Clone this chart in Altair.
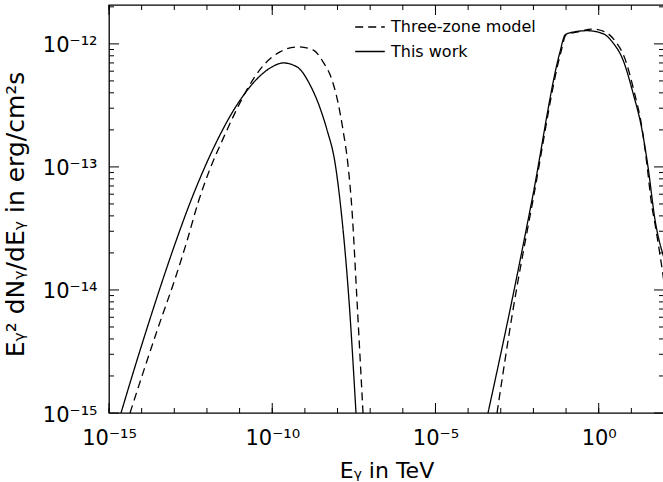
import altair as alt
import pandas as pd
import numpy as np

# ---- curve values (E in TeV, E^2 dN/dE in erg/cm^2 s) ----
work_low_E = [2.33e-15, 5.83e-15, 1.57e-14, 4.20e-14, 1.13e-13, 3.03e-13, 8.13e-13, 2.18e-12,
              5.86e-12, 1.57e-11, 4.22e-11, 9.84e-11, 2.14e-10, 5.74e-10, 1.44e-9, 2.90e-9,
              4.76e-9, 8.38e-9, 1.28e-8, 2.24e-8, 3.68e-8]
work_low_F = [1.0e-15, 2.24e-15, 5.19e-15, 1.16e-14, 2.50e-14, 5.10e-14, 9.63e-14, 1.69e-13,
              2.75e-13, 4.07e-13, 5.49e-13, 6.50e-13, 7.00e-13, 6.50e-13, 4.64e-13, 3.02e-13,
              2.00e-13, 1.08e-13, 4.47e-14, 8.29e-15, 1.0e-15]
work_high_E = [4.06e-4, 1.92e-3, 9.06e-3, 6.53e-2, 9.29e-2, 0.132, 0.439, 1.36, 2.74, 5.55,
               11.2, 21.2, 32.4, 53.1, 100.0]
work_high_F = [1.0e-15, 6.88e-15, 5.39e-14, 8.61e-13, 1.18e-12, 1.23e-12, 1.28e-12, 1.21e-12,
               1.02e-12, 7.41e-13, 4.00e-13, 2.00e-13, 1.0e-13, 3.71e-14, 1.82e-14]

three_low_E = [4.40e-15, 1.18e-14, 3.40e-14, 9.79e-14, 2.45e-13, 5.32e-13, 1.24e-12, 3.10e-12,
               7.24e-12, 1.60e-11, 5.21e-11, 1.73e-10, 6.15e-10, 1.77e-9, 3.59e-9, 6.78e-9,
               1.04e-8, 1.47e-8, 2.09e-8, 2.77e-8, 3.94e-8, 6.03e-8]
three_low_F = [1.0e-15, 2.24e-15, 5.19e-15, 1.16e-14, 2.50e-14, 5.10e-14, 9.63e-14, 1.69e-13,
               2.75e-13, 4.15e-13, 6.62e-13, 8.61e-13, 9.45e-13, 8.93e-13, 7.15e-13, 5.09e-13,
               3.31e-13, 2.00e-13, 1.04e-13, 4.47e-14, 8.29e-15, 1.0e-15]
three_high_E = [7.67e-4, 2.37e-3, 9.73e-3, 7.00e-2, 9.95e-2, 0.232, 0.624, 1.56, 3.16, 6.39,
                12.0, 21.2, 30.1, 40.0, 56.9, 75.4, 100.0]
three_high_F = [1.0e-15, 6.88e-15, 5.39e-14, 8.61e-13, 1.18e-12, 1.25e-12, 1.32e-12, 1.25e-12,
                1.06e-12, 7.55e-13, 4.15e-13, 2.07e-13, 1.04e-13, 5.39e-14, 3.08e-14, 1.93e-14,
                1.16e-14]

series_names = ["Three-zone model", "This work"]

# ---- axis ticks and labels ----
x_domain = [1e-15, 1e2]
y_domain = [1e-15, 2.07e-12]
x_label_values = [1e-15, 1e-10, 1e-5, 1e0]
x_label_texts = ["10⁻¹⁵", "10⁻¹⁰", "10⁻⁵", "10⁰"]
y_label_values = [1e-15, 1e-14, 1e-13, 1e-12]
y_label_texts = ["10⁻¹⁵", "10⁻¹⁴", "10⁻¹³", "10⁻¹²"]
x_minor_ticks = [1e-15, 1e-14, 1e-13, 1e-12, 1e-11, 1e-10, 1e-9, 1e-8, 1e-7, 1e-6,
                 1e-5, 1e-4, 1e-3, 1e-2, 1e-1, 1e0, 1e1, 1e2]
x_major_ticks = [1e-15, 1e-10, 1e-5, 1e0]
y_major_ticks = [1e-15, 1e-14, 1e-13, 1e-12]
y_minor_ticks = [m * d for d in [1e-15, 1e-14, 1e-13] for m in range(2, 10)] + [2e-12]

FONT = "DejaVu Sans"
W, H = 555, 408


def label_expr(values, texts):
    parts = [f"round(log(datum.value)/LN10) == {int(round(np.log10(v)))} ? '{t}' : "
             for v, t in zip(values, texts)]
    return "".join(parts) + "''"


segments = [
    ("This work", "work_low", work_low_E, work_low_F),
    ("This work", "work_high", work_high_E, work_high_F),
    ("Three-zone model", "three_low", three_low_E, three_low_F),
    ("Three-zone model", "three_high", three_high_E, three_high_F),
]
rows = []
for name, seg, es, fs in segments:
    for i, (e, f) in enumerate(zip(es, fs)):
        rows.append({"series": name, "segment": seg, "order": i, "E": e, "F": f})
curves = pd.DataFrame(rows)

xscale = alt.Scale(type="log", domain=x_domain, nice=False)
yscale = alt.Scale(type="log", domain=y_domain, nice=False)

x_axis = alt.Axis(
    values=x_label_values, labelExpr=label_expr(x_label_values, x_label_texts),
    ticks=False, tickSize=0, domain=False, grid=False, labelFlush=False, labelOverlap=False,
    labelFontSize=21, labelPadding=31, labelBaseline="alphabetic",
    title="Eᵧ in TeV", titleFontSize=22, titleY=64, titleBaseline="alphabetic",
)
y_axis = alt.Axis(
    values=y_label_values, labelExpr=label_expr(y_label_values, y_label_texts),
    ticks=False, tickSize=0, domain=False, grid=False, labelFlush=False, labelOverlap=False,
    labelFontSize=21, labelPadding=12, labelBaseline="alphabetic", labelOffset=8,
    title="Eᵧ² dNᵧ/dEᵧ in erg/cm²s", titleFontSize=25, titleAngle=270,
    titleX=-86, titleY=209, titleAlign="center", titleBaseline="alphabetic",
)

X = alt.X("E:Q", scale=xscale, axis=x_axis)
Y = alt.Y("F:Q", scale=yscale, axis=y_axis)

lines = alt.Chart(curves).mark_line(color="black", strokeWidth=1.3, clip=True,
                                    interpolate="monotone").encode(
    x=X, y=Y,
    strokeDash=alt.StrokeDash(
        "series:N",
        scale=alt.Scale(domain=series_names, range=[[8, 5], [1, 0]]),
        legend=alt.Legend(
            title=None, orient="none", legendX=251, legendY=12,
            symbolType="M-1.6,0H1.6", symbolSize=342, symbolStrokeWidth=1.3,
            symbolStrokeColor="black", labelFontSize=16, labelFont=FONT,
            labelColor="black", labelOffset=11, rowPadding=6.5,
        ),
    ),
    detail="segment:N",
    order="order:Q",
)

xt_minor = pd.DataFrame({"E": x_minor_ticks})
xt_major = pd.DataFrame({"E": x_major_ticks})
yt_minor = pd.DataFrame({"F": y_minor_ticks})
yt_major = pd.DataFrame({"F": y_major_ticks})

tick_layers = []
for df, ln in [(xt_minor, 5), (xt_major, 10)]:
    tick_layers.append(alt.Chart(df).mark_rule(color="black", strokeWidth=1).encode(
        x=X, y=alt.value(H), y2=alt.value(H - ln)))
    tick_layers.append(alt.Chart(df).mark_rule(color="black", strokeWidth=1).encode(
        x=X, y=alt.value(0), y2=alt.value(ln)))
for df, ln in [(yt_minor, 5), (yt_major, 10)]:
    tick_layers.append(alt.Chart(df).mark_rule(color="black", strokeWidth=1).encode(
        y=Y, x=alt.value(0), x2=alt.value(ln)))
    tick_layers.append(alt.Chart(df).mark_rule(color="black", strokeWidth=1).encode(
        y=Y, x=alt.value(W), x2=alt.value(W - ln)))

chart = alt.layer(lines, *tick_layers).properties(
    width=W, height=H,
    autosize=alt.AutoSizeParams(type="none"),
    padding={"left": 109, "top": 5, "right": -1, "bottom": 69},
    background="white",
).configure_view(
    stroke="black", strokeWidth=1.3
).configure_axis(
    labelFont=FONT, titleFont=FONT, labelColor="black", titleColor="black",
    titleFontWeight="normal",
)

chart.save("out.html", embed_options={"renderer": "svg", "actions": False})
